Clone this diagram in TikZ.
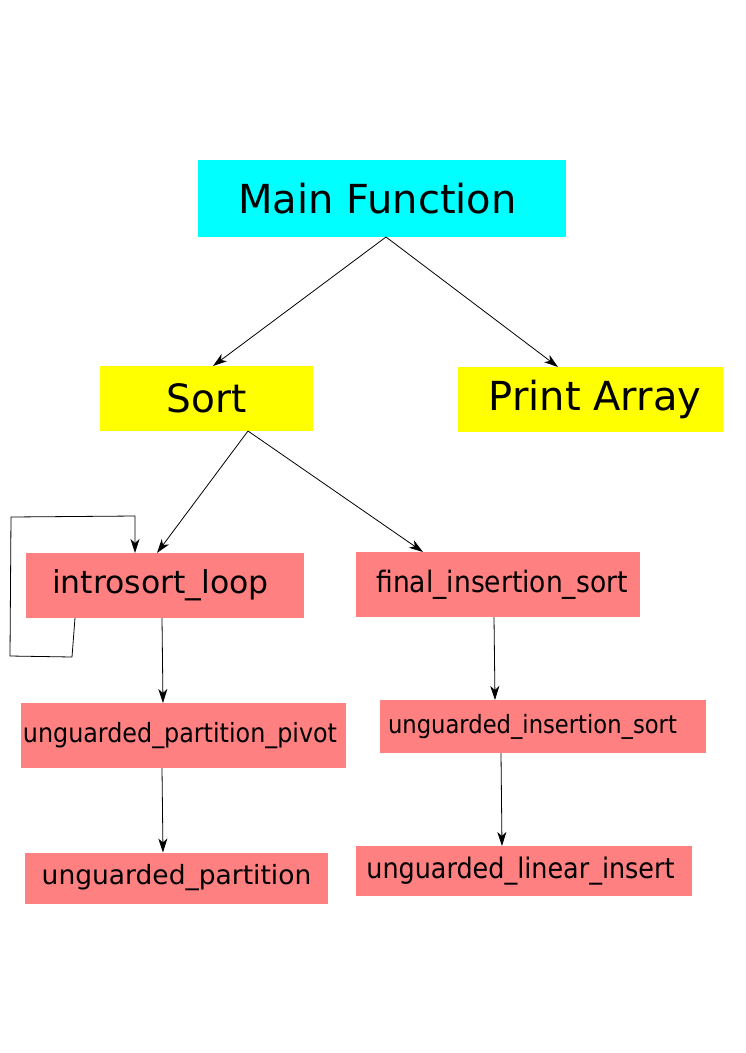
\documentclass[tikz,border=0pt]{standalone}
\usepackage{fontspec}
\setmainfont{DejaVu Sans}
\newfontfamily\condfont{DejaVu Sans Condensed}
\usetikzlibrary{arrows.meta,calc}

\definecolor{mainclr}{HTML}{00FFFF}
\definecolor{sortclr}{HTML}{FFFF00}
\definecolor{funcclr}{HTML}{FF8080}

\newcommand{\fsz}[1]{\fontsize{#1}{#1}\selectfont}

\begin{document}
\begin{tikzpicture}[
                x=1pt, y=1pt,
                box/.style={rectangle, inner sep=0pt, outer sep=0pt, text=black},
                arr/.style={-{Stealth[length=14pt, width=9pt, inset=4pt]}, line width=0.8pt},
            ]
            \useasboundingbox (0,0) rectangle (745,-1053);

            % top level
            \node[box, fill=mainclr, minimum width=368, minimum height=77] (main) at (382,-198.5) {\fsz{40}\hspace*{-9pt}Main Function};
            \node[box, fill=sortclr, minimum width=213, minimum height=65] (sort) at (206.5,-398.5) {\fsz{39}Sort};
            \node[box, fill=sortclr, minimum width=265, minimum height=65] (print) at (590.5,-399.5) {\fsz{40}\hspace*{9pt}Print Array};

            % sort helpers
            \node[box, fill=funcclr, minimum width=278, minimum height=65] (intro) at (165,-585.5) {\fsz{31.5}\hspace*{-9pt}introsort\_loop};
            \node[box, fill=funcclr, minimum width=284, minimum height=65] (final) at (498,-584.5) {\condfont\fsz{29.5}\hspace*{8pt}final\_insertion\_sort};
            \node[box, fill=funcclr, minimum width=325, minimum height=65] (pivot) at (183.5,-735.5) {\condfont\fsz{26.5}\hspace*{-7pt}unguarded\_partition\_pivot};
            \node[box, fill=funcclr, minimum width=326, minimum height=53] (uins) at (543,-726.5) {\condfont\fsz{25.2}\hspace*{-21pt}unguarded\_insertion\_sort};
            \node[box, fill=funcclr, minimum width=303, minimum height=51] (part) at (176.5,-878) {\fsz{26.5}unguarded\_partition};
            \node[box, fill=funcclr, minimum width=336, minimum height=50] (linear) at (524,-871) {\condfont\fsz{28.3}\hspace*{-7pt}unguarded\_linear\_insert};

            \draw[arr] ([xshift=4]main.south) -- ([xshift=6.5]sort.north);
            \draw[arr] ([xshift=4]main.south) -- ([xshift=-32.5]print.north);
            \draw[arr] ([xshift=41.5]sort.south) -- ([xshift=-8]intro.north);
            \draw[arr] ([xshift=41.5]sort.south) -- ([xshift=-75]final.north);
            \draw[arr] ([xshift=-3]intro.south) -- ([xshift=-20.5]pivot.north);
            \draw[arr] ([xshift=-21.5]pivot.south) -- ([xshift=-13.5]part.north);
            \draw[arr] ([xshift=-4]final.south) -- ([xshift=-48]uins.north);
            \draw[arr] ([xshift=-42]uins.south) -- ([xshift=-22]linear.north);

            % recursion
            \draw[arr] ([xshift=-90]intro.south) -- ++(-3,-39) -- ++(-62,1) -- ++(1,139) -- ++(124,1) -- ([xshift=-30]intro.north);
        \end{tikzpicture}
\end{document}
